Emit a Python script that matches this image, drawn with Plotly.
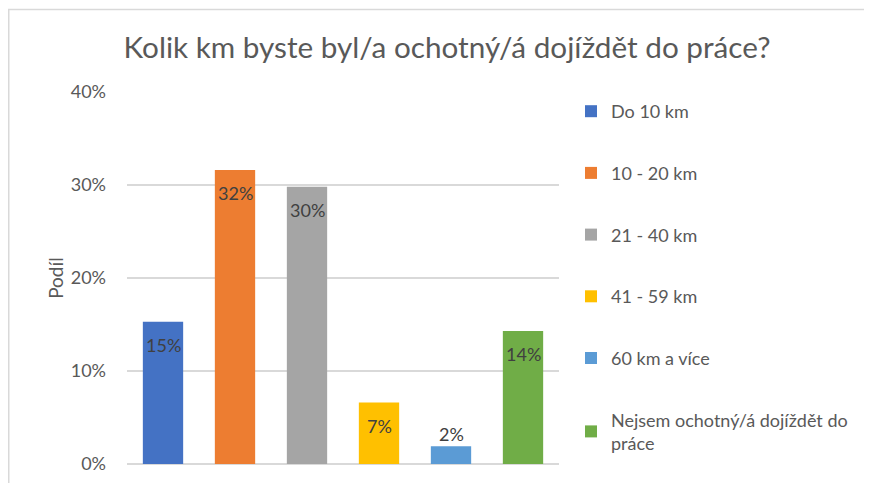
import plotly.graph_objects as go

categories = ["Do 10 km", "10 - 20 km", "21 - 40 km", "41 - 59 km", "60 km a více",
              "Nejsem ochotný/á dojíždět do<br>práce"]
values = [0.153, 0.316, 0.298, 0.066, 0.019, 0.143]
colors = ["#4472C4", "#ED7D31", "#A5A5A5", "#FFC000", "#5B9BD5", "#70AD47"]
y_ticks = [0, 0.1, 0.2, 0.3, 0.4]
y_tick_labels = ["0%", "10%", "20%", "30%", "40%"]

FONT = "Lato"
GREY = "#595959"
OFF = 8  # page body margin

fig = go.Figure()
for i, (cat, val, col) in enumerate(zip(categories, values, colors)):
    fig.add_trace(go.Bar(
        x=[i], y=[val], name=cat, marker=dict(color=col, line=dict(width=0)),
        legendgroup=str(i), showlegend=True, hoverinfo="skip",
    ))
    inside = val > 0.03
    fig.add_annotation(
        x=i, y=val, xref="x", yref="y", text=f"{round(val*100):d}%",
        showarrow=False, yshift=-23 if inside else 12,
        font=dict(family=FONT, size=18, color="#404040"),
    )

W, H = 872 - OFF, 483 - OFF
L, T = 127 - OFF, 92 - OFF
R = W - (559 - OFF)
B = H - (464 - OFF)
pw, ph = W - L - R, H - T - B
fig.add_shape(type="rect", xref="paper", yref="paper",
              x0=(0.75 - L) / pw, x1=(W + 30 - L) / pw,
              y0=(H - B - H - 30) / ph, y1=(H - B - 1.5) / ph,
              line=dict(color="#D9D9D9", width=1.5), fillcolor="rgba(0,0,0,0)", layer="below")

fig.update_layout(
    width=W, height=H,
    margin=dict(l=L, r=R, t=T, b=B, autoexpand=False),
    paper_bgcolor="white", plot_bgcolor="white",
    barmode="relative", bargap=0.44,
    title=dict(text="Kolik km byste byl/a ochotný/á dojíždět do práce?",
               x=(447 - OFF) / W, xanchor="center", y=1 - (48 - OFF) / H, yanchor="middle",
               font=dict(family=FONT, size=29.7, color=GREY)),
    xaxis=dict(range=[-0.5, 5.5], showticklabels=False, showgrid=False, zeroline=False,
               showline=False, ticks=""),
    yaxis=dict(range=[0, 0.4], tickvals=y_ticks, ticktext=y_tick_labels,
               showgrid=True, gridcolor="#D9D9D9", gridwidth=1.5, zeroline=True,
               zerolinecolor="#D9D9D9", zerolinewidth=1.5, showline=False,
               ticks="", ticklabelstandoff=20,
               tickfont=dict(family=FONT, size=18, color=GREY),
               title=dict(text="Podíl", standoff=2, font=dict(family=FONT, size=19, color=GREY))),
    legend=dict(x=(571 - 127) / pw, xanchor="left", y=1 - (93 - 92) / ph, yanchor="top",
                font=dict(family=FONT, size=18, color=GREY), tracegroupgap=35.3,
                itemwidth=30, bgcolor="rgba(0,0,0,0)", maxheight=480),
    showlegend=True,
)

fig.write_html("out.html")
